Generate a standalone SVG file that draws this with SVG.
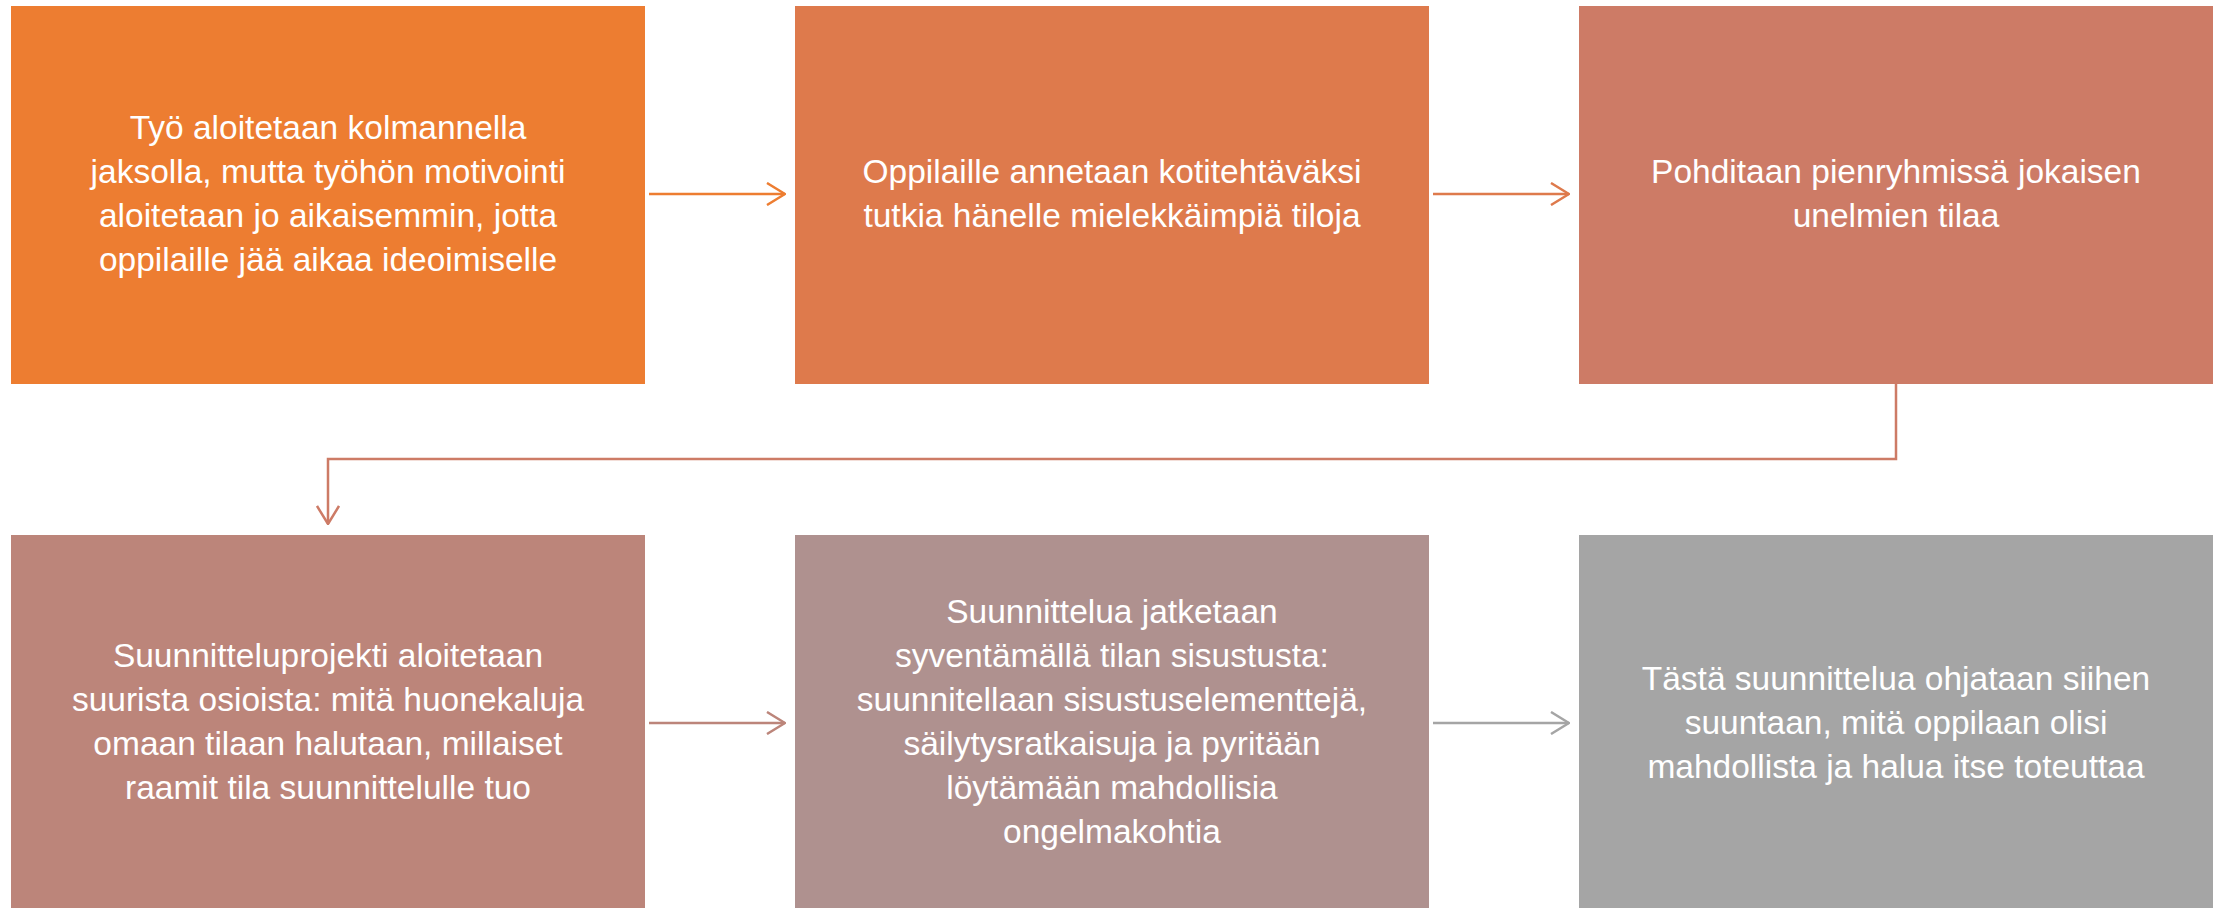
<svg xmlns="http://www.w3.org/2000/svg" width="2218" height="908" viewBox="0 0 2218 908">
<style>
.t{font-family:"Liberation Sans",Arial,sans-serif;font-size:33.5px;fill:#ffffff;text-anchor:middle}
.c{fill:none;stroke-width:2.5}
</style>
<defs>
<marker id="m1" viewBox="0 0 20 24" refX="19" refY="12" markerWidth="20" markerHeight="24" markerUnits="userSpaceOnUse" orient="auto"><path d="M1,1 L19,12 L1,23" fill="none" stroke="#ED7D31" stroke-width="2.5"/></marker>
<marker id="m2" viewBox="0 0 20 24" refX="19" refY="12" markerWidth="20" markerHeight="24" markerUnits="userSpaceOnUse" orient="auto"><path d="M1,1 L19,12 L1,23" fill="none" stroke="#DE7A4C" stroke-width="2.5"/></marker>
<marker id="m3" viewBox="0 0 20 24" refX="19" refY="12" markerWidth="20" markerHeight="24" markerUnits="userSpaceOnUse" orient="auto"><path d="M1,1 L19,12 L1,23" fill="none" stroke="#CD7B66" stroke-width="2.5"/></marker>
<marker id="m4" viewBox="0 0 20 24" refX="19" refY="12" markerWidth="20" markerHeight="24" markerUnits="userSpaceOnUse" orient="auto"><path d="M1,1 L19,12 L1,23" fill="none" stroke="#BC857A" stroke-width="2.5"/></marker>
<marker id="m5" viewBox="0 0 20 24" refX="19" refY="12" markerWidth="20" markerHeight="24" markerUnits="userSpaceOnUse" orient="auto"><path d="M1,1 L19,12 L1,23" fill="none" stroke="#A5A5A5" stroke-width="2.5"/></marker>
</defs>
<rect width="2218" height="908" fill="#ffffff"/>
<g id="connectors">
<line class="c" x1="649" y1="194" x2="785" y2="194" stroke="#ED7D31" marker-end="url(#m1)"/>
<line class="c" x1="1433" y1="194" x2="1569" y2="194" stroke="#DE7A4C" marker-end="url(#m2)"/>
<polyline class="c" points="1896,384 1896,459 328,459 328,524" stroke="#CD7B66" marker-end="url(#m3)"/>
<line class="c" x1="649" y1="723" x2="785" y2="723" stroke="#BC857A" marker-end="url(#m4)"/>
<line class="c" x1="1433" y1="723" x2="1569" y2="723" stroke="#A5A5A5" marker-end="url(#m5)"/>
</g>
<g id="node1">
<rect x="11" y="6" width="634" height="378" fill="#ED7D31"/>
<text class="t" x="328"><tspan x="328" y="139">Työ aloitetaan kolmannella</tspan><tspan x="328" y="183">jaksolla, mutta työhön motivointi</tspan><tspan x="328" y="227">aloitetaan jo aikaisemmin, jotta</tspan><tspan x="328" y="271">oppilaille jää aikaa ideoimiselle</tspan></text>
</g>
<g id="node2">
<rect x="795" y="6" width="634" height="378" fill="#DE7A4C"/>
<text class="t"><tspan x="1112" y="183">Oppilaille annetaan kotitehtäväksi</tspan><tspan x="1112" y="227">tutkia hänelle mielekkäimpiä tiloja</tspan></text>
</g>
<g id="node3">
<rect x="1579" y="6" width="634" height="378" fill="#CD7B66"/>
<text class="t"><tspan x="1896" y="183">Pohditaan pienryhmissä jokaisen</tspan><tspan x="1896" y="227">unelmien tilaa</tspan></text>
</g>
<g id="node4">
<rect x="11" y="535" width="634" height="373" fill="#BC857A"/>
<text class="t"><tspan x="328" y="667">Suunnitteluprojekti aloitetaan</tspan><tspan x="328" y="711">suurista osioista: mitä huonekaluja</tspan><tspan x="328" y="755">omaan tilaan halutaan, millaiset</tspan><tspan x="328" y="799">raamit tila suunnittelulle tuo</tspan></text>
</g>
<g id="node5">
<rect x="795" y="535" width="634" height="373" fill="#AF918F"/>
<text class="t"><tspan x="1112" y="623">Suunnittelua jatketaan</tspan><tspan x="1112" y="667">syventämällä tilan sisustusta:</tspan><tspan x="1112" y="711">suunnitellaan sisustuselementtejä,</tspan><tspan x="1112" y="755">säilytysratkaisuja ja pyritään</tspan><tspan x="1112" y="799">löytämään mahdollisia</tspan><tspan x="1112" y="843">ongelmakohtia</tspan></text>
</g>
<g id="node6">
<rect x="1579" y="535" width="634" height="373" fill="#A5A5A5"/>
<text class="t"><tspan x="1896" y="690">Tästä suunnittelua ohjataan siihen</tspan><tspan x="1896" y="734">suuntaan, mitä oppilaan olisi</tspan><tspan x="1896" y="778">mahdollista ja halua itse toteuttaa</tspan></text>
</g>
</svg>
